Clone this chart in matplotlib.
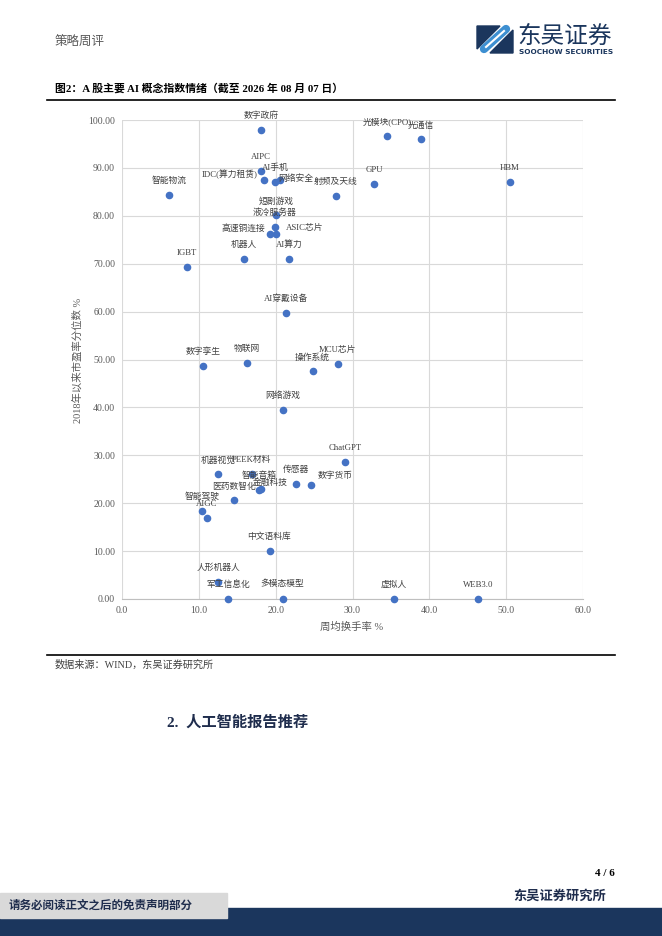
import matplotlib
matplotlib.use("Agg")
import matplotlib.pyplot as plt
from matplotlib.patches import Rectangle, Polygon
from matplotlib.ticker import FormatStrFormatter

# concept index: name, weekly avg turnover %, PE percentile since 2018 %
names = [
    "数字政府", "AIPC", "IDC(算力租赁)", "AI手机", "网络安全", "智能物流",
    "射频及天线", "短剧游戏", "液冷服务器", "高速铜连接", "ASIC芯片", "机器人",
    "AI算力", "IGBT", "光模块(CPO)", "光通信", "GPU", "HBM",
    "AI穿戴设备", "数字孪生", "物联网", "操作系统", "MCU芯片", "网络游戏",
    "ChatGPT", "机器视觉", "PEEK材料", "智能音箱", "金融科技", "医药数智化",
    "传感器", "数字货币", "智能驾驶", "AIGC", "中文语料库", "人形机器人",
    "军工信息化", "多模态模型", "虚拟人", "WEB3.0",
]
turnover = [
    18.1, 18.1, 18.5, 20.6, 19.9, 6.1,
    27.8, 20.1, 19.9, 19.3, 20.1, 15.9,
    21.8, 8.5, 34.5, 38.9, 32.8, 50.5,
    21.3, 10.5, 16.3, 24.8, 28.1, 20.9,
    29.0, 12.5, 16.9, 17.8, 18.1, 14.6,
    22.6, 24.6, 10.4, 11.0, 19.2, 12.5,
    13.8, 20.9, 35.4, 46.3,
]
pe_pct = [
    98.0, 89.4, 87.4, 87.5, 87.1, 84.4,
    84.1, 80.1, 77.6, 76.2, 76.2, 71.0,
    71.0, 69.4, 96.7, 96.0, 86.6, 87.1,
    59.7, 48.7, 49.3, 47.5, 49.1, 39.5,
    28.6, 26.0, 26.0, 22.8, 23.0, 20.6,
    24.1, 23.9, 18.4, 17.0, 10.1, 3.6,
    0.0, 0.0, 0.0, 0.0,
]

x_ticks = [0, 10, 20, 30, 40, 50, 60]
y_ticks = [0, 10, 20, 30, 40, 50, 60, 70, 80, 90, 100]

# labels that are not simply centred above their dot: (dx px, dy px, ha)
label_moves = {
    "IDC(算力租赁)": (-7, 6, "right"),
    "AI手机": (-5, 12, "center"),
    "网络安全": (3, 3, "left"),
    "高速铜连接": (-5, 6, "right"),
    "ASIC芯片": (9, 6, "left"),
    "液冷服务器": (0, 15, "center"),
    "金融科技": (9, 6, "center"),
    "数字货币": (7, 9, "left"),
    "多模态模型": (0, 15, "center"),
}

W, H = 662, 936
serif_cjk = ["Liberation Serif", "Noto Sans CJK SC"]
navy = "#1f2d4d"
logo_navy = "#1b365d"
logo_blue = "#3d8fd1"

fig = plt.figure(figsize=(W / 100, H / 100), dpi=100)

# page furniture drawn in pixel coordinates
page = fig.add_axes([0, 0, 1, 1])
page.set_xlim(0, W)
page.set_ylim(H, 0)
page.axis("off")

page.text(55, 43, "策略周评", fontsize=9, color="#595959",
          family=serif_cjk, va="center")

# logo, rough shape
page.add_patch(Polygon([[477, 26], [500, 26], [477, 49]], color=logo_navy))
page.add_patch(Polygon([[490, 53], [513, 30], [513, 53]], color=logo_navy))
page.plot([484, 506], [49, 29], color=logo_blue, lw=6, solid_capstyle="round")
page.plot([486, 504], [47, 31], color="white", lw=1.5)
page.text(517, 36, "东吴证券", fontsize=17, color=logo_navy,
          family=["Noto Sans CJK SC"], va="center", ha="left")
page.text(613, 52, "SOOCHOW SECURITIES", fontsize=5.3, color=logo_navy,
          family=["DejaVu Sans"], fontweight="bold", va="center", ha="right")

page.text(55, 88, "图2：A 股主要 AI 概念指数情绪（截至 2026 年 08 月 07 日）",
          fontsize=7.8, fontweight="bold", color="black",
          family=serif_cjk, va="center")
page.plot([46.5, 615], [100, 100], color="black", lw=1.2)
page.plot([46.5, 615], [655, 655], color="black", lw=1.2)
page.text(55, 665, "数据来源：WIND，东吴证券研究所", fontsize=7.3,
          color="#404040", family=serif_cjk, va="center")

page.text(167, 722, "2.  人工智能报告推荐", fontsize=11, fontweight="bold",
          color=navy, family=serif_cjk, va="center")

page.text(615, 873, "4 / 6", fontsize=8, fontweight="bold", color="black",
          family=serif_cjk, va="center", ha="right")
page.text(513, 896, "东吴证券研究所", fontsize=9.5, fontweight="bold",
          color=navy, family=serif_cjk, va="center")
page.add_patch(Rectangle((0, 908), W, 28, color=logo_navy))
page.add_patch(Rectangle((0, 893), 227, 25, color="#d9d9d9"))
page.text(9, 906, "请务必阅读正文之后的免责声明部分", fontsize=8.3,
          fontweight="bold", color=navy, family=serif_cjk, va="center")

# scatter chart
ax = fig.add_axes([122 / W, 1 - 599 / H, (583 - 122) / W, (599 - 120) / H])
ax.scatter(turnover, pe_pct, s=20, color="#4472c4", zorder=3, clip_on=False)

for name, x, y in zip(names, turnover, pe_pct):
    dx, dy, ha = label_moves.get(name, (0, 14, "center"))
    ax.annotate(name, (x, y), xytext=(dx, dy), textcoords="offset pixels",
                ha=ha, va="center", fontsize=6.3, color="#404040",
                family=serif_cjk, zorder=4, annotation_clip=False)

ax.set_xlim(0, 60)
ax.set_ylim(0, 100)
ax.set_xticks(x_ticks)
ax.set_yticks(y_ticks)
ax.xaxis.set_major_formatter(FormatStrFormatter("%.1f"))
ax.yaxis.set_major_formatter(FormatStrFormatter("%.2f"))
ax.grid(True, color="#d9d9d9", lw=0.8)
ax.set_axisbelow(True)
for side in ["top", "right", "left"]:
    ax.spines[side].set_visible(False)
ax.spines["bottom"].set_color("#bfbfbf")
ax.tick_params(length=0, labelsize=7, labelcolor="#595959", pad=5)
for lab in ax.get_xticklabels() + ax.get_yticklabels():
    lab.set_family("Liberation Serif")

page.text(352, 627, "周均换手率 %", fontsize=7.5, color="#595959",
          family=serif_cjk, ha="center", va="center")
page.text(78, 360, "2018年以来市盈率分位数 %", fontsize=7.5, color="#595959",
          family=serif_cjk, ha="center", va="center", rotation=90)

fig.savefig("out.png", dpi=100)
